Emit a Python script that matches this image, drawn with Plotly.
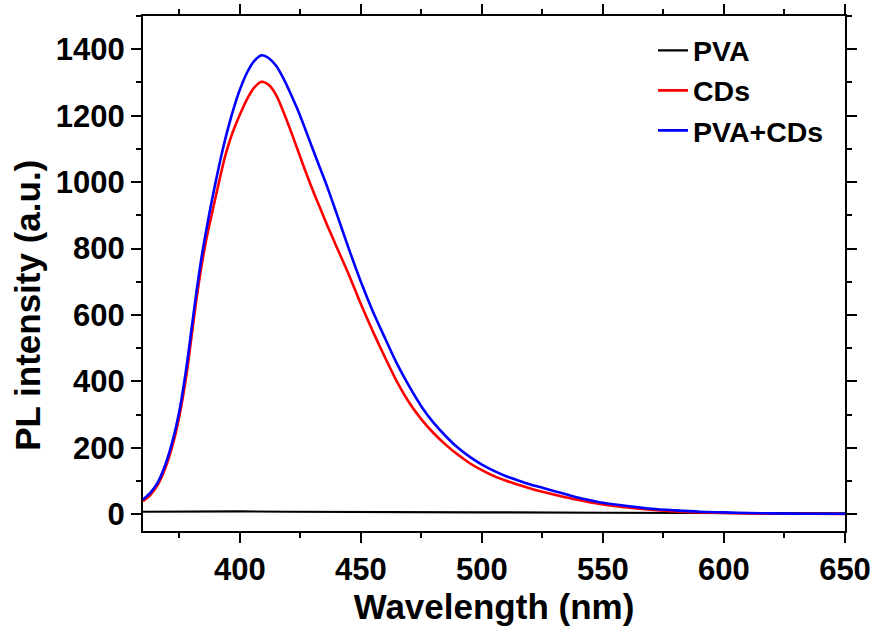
import plotly.graph_objects as go

# Wavelength (nm) sample points and PL intensities
wl_blue = [360, 363, 366, 369, 372, 375, 378, 380, 382, 384, 386, 388, 390, 392, 394, 396, 398,
           400, 403, 406, 409, 412, 415, 418, 421, 424, 427, 430, 433, 436, 440, 445, 450, 455,
           460, 465, 470, 475, 480, 485, 490, 495, 500, 505, 510, 515, 520, 525, 530, 535, 540,
           545, 550, 560, 570, 580, 590, 600, 610, 620, 635, 650]
pva_cds = [45, 65, 95, 145, 215, 310, 445, 555, 665, 765, 850, 928, 1000, 1068, 1130, 1185, 1235,
           1278, 1330, 1365, 1382, 1373, 1350, 1312, 1266, 1216, 1160, 1102, 1045, 988, 905, 800,
           700, 610, 530, 452, 385, 325, 276, 236, 201, 173, 150, 131, 115, 102, 90, 80, 70, 60,
           50, 42, 35, 25, 17, 12, 8, 6, 4, 3, 2, 2]

wl_red = [360, 363, 366, 369, 372, 375, 378, 380, 382, 384, 386, 388, 390, 392, 394, 396, 398,
          400, 403, 406, 409, 412, 415, 418, 421, 424, 427, 430, 433, 436, 440, 445, 450, 455,
          460, 465, 470, 475, 480, 485, 490, 495, 500, 505, 510, 515, 520, 525, 530, 535, 540,
          545, 550, 560, 570, 580, 590, 600, 610, 620, 635, 650]
cds = [40, 58, 88, 135, 202, 295, 422, 532, 643, 740, 822, 890, 955, 1020, 1080, 1128, 1168,
       1203, 1250, 1285, 1302, 1292, 1262, 1212, 1155, 1095, 1035, 978, 925, 872, 805, 722,
       633, 550, 472, 398, 336, 286, 245, 210, 180, 154, 133, 115, 101, 89, 78, 68, 59, 51,
       43, 36, 30, 21, 14, 9, 6, 4, 3, 2, 2, 1]

wl_black = [360, 380, 400, 420, 450, 480, 500, 550, 600, 650]
pva = [8, 9, 9, 8, 8, 7, 6, 5, 4, 3]

x_ticks = [400, 450, 500, 550, 600, 650]
y_ticks = [0, 200, 400, 600, 800, 1000, 1200, 1400]

FONT = "Liberation Sans, Arial, sans-serif"

fig = go.Figure()
fig.add_trace(go.Scatter(x=wl_black, y=pva, mode="lines", name="<b>PVA</b>",
                         line=dict(color="#000000", width=2.2)))
fig.add_trace(go.Scatter(x=wl_red, y=cds, mode="lines", name="<b>CDs</b>",
                         line=dict(color="#ff0000", width=2.6, shape="spline", smoothing=0.8)))
fig.add_trace(go.Scatter(x=wl_blue, y=pva_cds, mode="lines", name="<b>PVA+CDs</b>",
                         line=dict(color="#0000ff", width=2.6, shape="spline", smoothing=0.8)))

axis_common = dict(
    showline=True, linecolor="black", linewidth=2, mirror="ticks",
    ticks="outside", ticklen=10, tickwidth=2, tickcolor="black",
    showgrid=False, zeroline=False, automargin=False,
    tickfont=dict(family=FONT, size=31, color="black"),
)

fig.update_layout(
    width=874, height=626,
    margin=dict(l=143, r=29, t=16, b=95),
    paper_bgcolor="white", plot_bgcolor="white",
    font=dict(family=FONT, color="black"),
    xaxis=dict(range=[360, 650], tickvals=x_ticks,
               ticktext=[f"<b>{v}</b>" for v in x_ticks],
               minor=dict(ticks="outside", ticklen=5, tickwidth=2, tickcolor="black", dtick=25, tick0=375),
               title=dict(text="<b>Wavelength (nm)</b>", font=dict(family=FONT, size=35, color="black"),
                          standoff=8),
               **axis_common),
    yaxis=dict(range=[-50, 1500], tickvals=y_ticks,
               ticktext=[f"<b>{v}</b>" for v in y_ticks],
               minor=dict(ticks="outside", ticklen=5, tickwidth=2, tickcolor="black", dtick=100, tick0=0),
               **axis_common),
    annotations=[dict(text="<b>PL intensity (a.u.)</b>", xref="paper", yref="paper",
                      x=-0.164, y=0.439, xanchor="center", yanchor="middle", textangle=-90,
                      showarrow=False, font=dict(family=FONT, size=35, color="black"))],
    legend=dict(x=0.7265, y=0.982, xanchor="left", yanchor="top",
                bgcolor="rgba(0,0,0,0)", borderwidth=0,
                font=dict(family=FONT, size=28.5, color="black"),
                tracegroupgap=0),
    showlegend=True,
)

fig.write_html("out.html")
